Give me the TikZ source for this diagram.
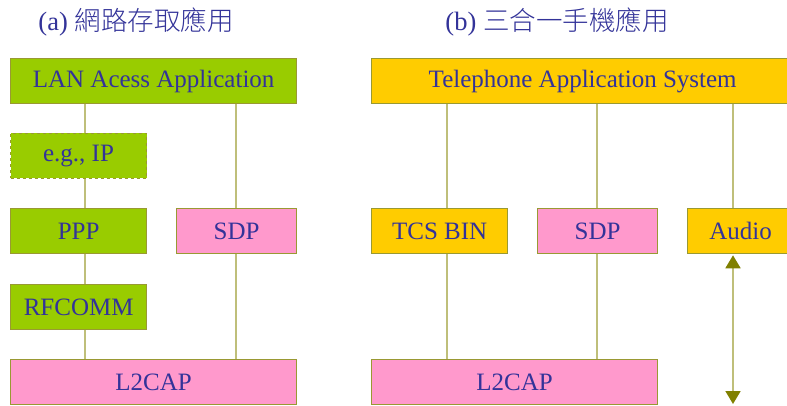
\documentclass[tikz,border=0pt]{standalone}
\usepackage{fontspec}
\setmainfont{Liberation Serif}
\newfontfamily\cjk{Noto Sans CJK TC Light}
\usetikzlibrary{arrows.meta}
\definecolor{txtblue}{HTML}{333399}
\definecolor{boxgreen}{HTML}{99CC00}
\definecolor{boxpink}{HTML}{FF99CC}
\definecolor{boxyellow}{HTML}{FFCC00}
\definecolor{boxedge}{HTML}{999933}
\definecolor{linkline}{HTML}{BFBF7A}
\definecolor{arrowtip}{HTML}{808000}
\tikzset{
  layer/.style={draw=boxedge, line width=1.3pt, inner sep=0pt, text=txtblue,
    font=\fontsize{25}{28}\selectfont, minimum height=45pt, anchor=north west},
  gbox/.style={layer, fill=boxgreen},
  pbox/.style={layer, fill=boxpink},
  ybox/.style={layer, fill=boxyellow},
  link/.style={draw=linkline, line width=1.8pt},
  ttl/.style={text=txtblue, font=\fontsize{26.5}{30}\selectfont, inner sep=0pt}
}
\begin{document}
\begin{tikzpicture}[x=1pt,y=-1pt]
\clip (0,0) rectangle (787,406);
\fill[white] (0,0) rectangle (787,406);
% titles
\node[ttl] (ta) at (136,22) {(a) {\cjk 網路存取應用}};
\node[ttl] (tb) at (557,22) {(b) {\cjk 三合一手機應用}};
% left panel
\node[gbox, minimum width=286pt] (lan) at (10,58) {LAN Acess Application};
\node[gbox, minimum width=136pt, dashed, line width=1pt] (ip) at (10,133) {e.g., IP};
\node[gbox, minimum width=136pt] (ppp) at (10,208) {PPP};
\node[pbox, minimum width=120pt] (sdpa) at (176,208) {SDP};
\node[gbox, minimum width=136pt] (rf) at (10,284) {RFCOMM};
\node[pbox, minimum width=286pt] (l2a) at (10,359) {L2CAP};
\coordinate (a1t) at (85,103);
\coordinate (a2t) at (236,103);
\draw[link] (lan.south -| a1t) -- (ip.north -| a1t);
\draw[link] (ip.south -| a1t) -- (ppp.north -| a1t);
\draw[link] (ppp.south -| a1t) -- (rf.north -| a1t);
\draw[link] (rf.south -| a1t) -- (l2a.north -| a1t);
\draw[link] (lan.south -| a2t) -- (sdpa.north -| a2t);
\draw[link] (sdpa.south -| a2t) -- (l2a.north -| a2t);
% right panel
\node[ybox, minimum width=422pt] (tel) at (371,58) {Telephone Application System};
\node[ybox, minimum width=136pt] (tcs) at (371,208) {TCS BIN};
\node[pbox, minimum width=120pt] (sdpb) at (537,208) {SDP};
\node[ybox, minimum width=106pt] (aud) at (687,208) {Audio};
\node[pbox, minimum width=286pt] (l2b) at (371,359) {L2CAP};
\coordinate (b1t) at (447,103);
\coordinate (b2t) at (597,103);
\coordinate (b3t) at (733,103);
\coordinate (abot) at (733,404);
\draw[link] (tel.south -| b1t) -- (tcs.north -| b1t);
\draw[link] (tcs.south -| b1t) -- (l2b.north -| b1t);
\draw[link] (tel.south -| b2t) -- (sdpb.north -| b2t);
\draw[link] (sdpb.south -| b2t) -- (l2b.north -| b2t);
\draw[link] (tel.south -| b3t) -- (aud.north -| b3t);
\draw[link, {Triangle[length=13pt,width=15pt,color=arrowtip]}-{Triangle[length=13pt,width=15pt,color=arrowtip]}, shorten <=1pt]
  (aud.south -| b3t) -- (abot);
\end{tikzpicture}
\end{document}
